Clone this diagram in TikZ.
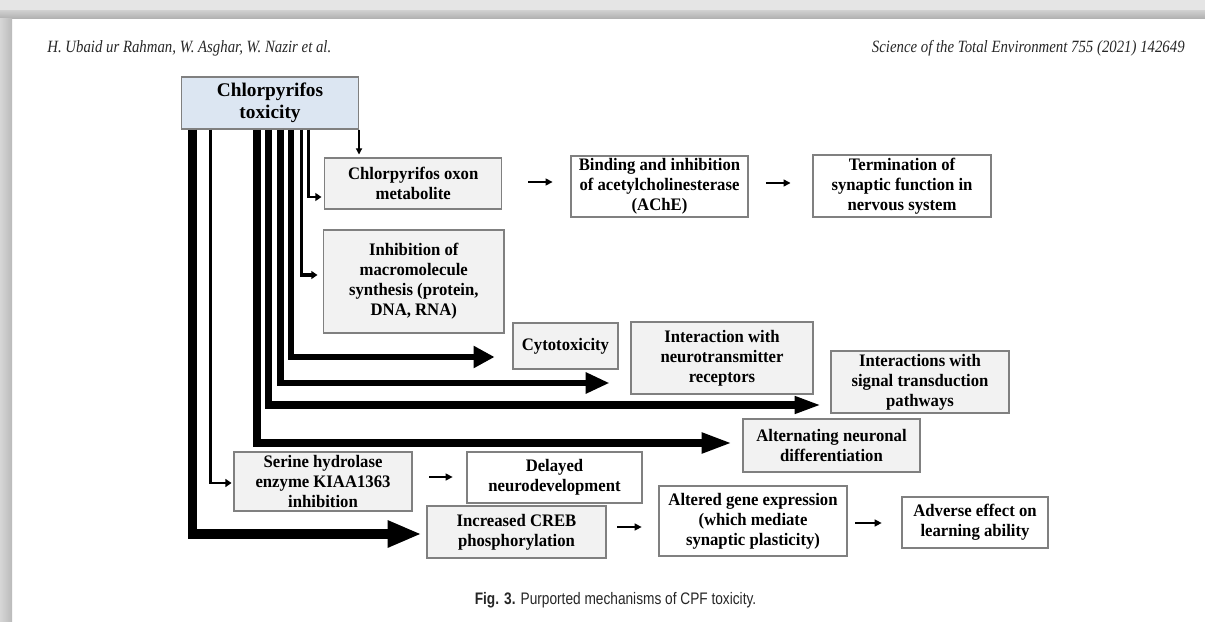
\documentclass[tikz,border=0pt]{standalone}
\usepackage{fontspec}
\setmainfont{Liberation Serif}
\newfontfamily\boxfont{Liberation Serif}[FakeStretch=0.95]
\newfontfamily\hdrfont{Liberation Serif}[FakeStretch=0.86]
\newfontfamily\capfont{Liberation Sans}[FakeStretch=0.82]
\usetikzlibrary{arrows.meta,calc}
\definecolor{boxgray}{HTML}{F2F2F2}
\definecolor{boxblue}{HTML}{DCE6F2}
\definecolor{edgegray}{HTML}{808080}
\tikzset{
  plainbox/.style={draw=edgegray, line width=0.6pt, fill=white, align=center,
    inner sep=1pt, font=\boxfont\bfseries\fontsize{10}{11.4}\selectfont},
  graybox/.style={plainbox, fill=boxgray},
  bluebox/.style={plainbox, fill=boxblue, font=\bfseries\fontsize{11}{12.5}\selectfont},
  link/.style={line width=0.8pt, -{Triangle[length=4pt,width=4pt]}},
}
\begin{document}
\begin{tikzpicture}[x=0.02cm, y=-0.02cm]
  \useasboundingbox (0,0) rectangle (1205,622);
  % page edge
  \fill[black!10] (0,0) rectangle (1205,10);
  \shade[top color=black!18, bottom color=black!30] (0,10) rectangle (1205,18);
  \shade[left color=black!16, right color=black!27] (0,18) rectangle (12,622);

  \def \Boxes {
    tox/270/103/177/52/bluebox/{Chlorpyrifos\\toxicity},
    oxon/413.2/183.5/177.5/51/graybox/{Chlorpyrifos oxon\\metabolite},
    binding/659.5/186.5/177/61/plainbox/{Binding and inhibition\\of acetylcholinesterase\\(AChE)},
    termination/902/186/178/62/plainbox/{Termination of\\synaptic function in\\nervous system},
    inhib/413.8/281.5/180.4/103/graybox/{Inhibition of\\macromolecule\\synthesis (protein,\\DNA, RNA)},
    cyto/565.5/346/105/46/graybox/{Cytotoxicity},
    neuro/722/358/182/72/graybox/{Interaction with\\neurotransmitter\\receptors},
    signal/920/382/178/62/graybox/{Interactions with\\signal transduction\\pathways},
    altern/831.5/445.5/177/53/graybox/{Alternating neuronal\\differentiation},
    serine/323/481.5/178/59/graybox/{Serine hydrolase\\enzyme KIAA1363\\inhibition},
    delayed/554.5/477.5/175/51/plainbox/{Delayed\\neurodevelopment},
    creb/516.5/532/179/52/graybox/{Increased CREB\\phosphorylation},
    altered/753/521/188/70/plainbox/{Altered gene expression\\(which mediate\\synaptic plasticity)},
    adverse/975/522.5/146/51/plainbox/{Adverse effect on\\learning ability}}
  \def \Bars {
    creb/11.3/2/5.3/19.3/14.2/2.8,
    serine/29.3/1.5/1.5/3.5/4.5/1.1,
    altern/76.3/-2.5/4.4/17.6/10.8/5.7,
    signal/87.3/23/4.1/15.3/9.1/5.1,
    neuro/99.3/25/3.8/13.6/11.3/11.9,
    cyto/110.3/11/3.2/11.9/11.9/10.2,
    inhib/120.3/-6.5/1.9/3.5/4.5/3.2,
    oxon/127.3/13.5/1.5/3.5/4.5/1.4}
  \def \Links {
    oxon/binding/-1.5/14.7/10.2,
    binding/termination/-3.5/9.9/12.5,
    serine/delayed/-4.5/9.6/7.9,
    creb/altered/-5/6.2/9.6,
    altered/adverse/2/4.5/11.3}

  \foreach \id / \x / \y / \w / \h / \st / \txt in \Boxes {
    \node[\st, minimum width=\w*0.2mm, minimum height=\h*0.2mm] (\id) at (\x, \y) {\txt};
  }
  \foreach \tg / \dx / \dy / \lw / \al / \aw / \sh in \Bars {
    \draw[line width=\lw pt, -{Triangle[length=\al pt,width=\aw pt]}, shorten >=\sh pt]
      ($(tox.south west)+(\dx,0)$) |- ($(\tg.west)+(0,\dy)$);
  }
  \foreach \a / \b / \dy / \sa / \sb in \Links {
    \path ($(\a.east)+(0,\dy)$) coordinate (p);
    \draw[link, shorten <=\sa pt, shorten >=\sb pt] (p) -- (p -| \b.west);
  }
  \draw[line width=0.7pt, -{Triangle[length=3.5pt,width=3.5pt]}, shorten >=1.7pt]
    (tox.south east) -- (tox.south east |- oxon.north);

  \node[anchor=west, inner sep=0pt, text=black!85,
    font=\hdrfont\itshape\fontsize{9.8}{11}\selectfont] (hdrl) at (47,48)
    {H. Ubaid ur Rahman, W. Asghar, W. Nazir et al.};
  \node[anchor=east, inner sep=0pt, text=black!85,
    font=\hdrfont\itshape\fontsize{9.8}{11}\selectfont] (hdrr) at (1185,48)
    {Science of the Total Environment 755 (2021) 142649};
  \node[inner sep=0pt, text=black!85, font=\capfont\fontsize{9.5}{11}\selectfont]
    (caption) at (615.5,600) {\textbf{Fig. 3.} Purported mechanisms of CPF toxicity.};
\end{tikzpicture}
\end{document}
